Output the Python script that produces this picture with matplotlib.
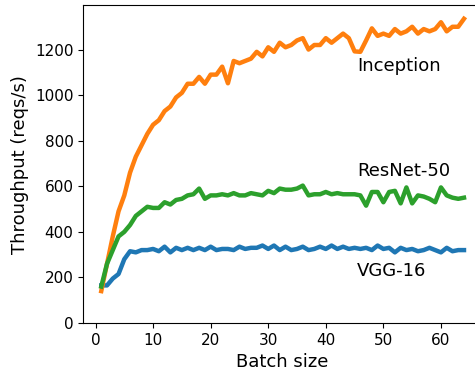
import matplotlib.pyplot as plt

batch = list(range(1, 65))

vgg16 = [165, 165, 195, 215, 280, 315, 310, 320, 320, 325,
         315, 335, 310, 330, 320, 330, 320, 330, 320, 335,
         320, 325, 325, 320, 335, 325, 330, 330, 340, 325,
         340, 320, 335, 320, 325, 335, 320, 325, 335, 325,
         340, 325, 335, 325, 330, 325, 330, 320, 340, 325,
         330, 310, 330, 320, 325, 315, 320, 330, 320, 310,
         330, 315, 320, 320]

inception = [140, 260, 380, 490, 560, 660, 730, 780, 830, 870,
             890, 930, 950, 990, 1010, 1050, 1050, 1080, 1050, 1090,
             1090, 1125, 1052, 1150, 1140, 1150, 1160, 1190, 1170, 1210,
             1190, 1230, 1210, 1220, 1240, 1250, 1200, 1220, 1220, 1250,
             1230, 1250, 1270, 1250, 1192, 1190, 1240, 1293, 1260, 1270,
             1260, 1290, 1270, 1280, 1300, 1270, 1290, 1280, 1290, 1320,
             1280, 1300, 1300, 1335]

resnet50 = [160, 260, 320, 380, 400, 430, 470, 490, 510, 505,
            505, 530, 520, 540, 545, 560, 565, 590, 545, 560,
            560, 565, 560, 570, 560, 560, 570, 565, 560, 580,
            570, 590, 585, 585, 590, 603, 560, 565, 565, 575,
            565, 570, 565, 565, 565, 560, 515, 575, 575, 530,
            575, 580, 525, 595, 525, 560, 555, 545, 530, 595,
            560, 550, 545, 550]

fig = plt.figure(figsize=(4.75, 3.7), dpi=100)
ax = fig.add_axes([0.175, 0.127, 0.84, 0.859])

ax.plot(batch, vgg16, linewidth=3.2)
ax.plot(batch, inception, linewidth=3.2)
ax.plot(batch, resnet50, linewidth=3.2)

# labels next to the lines instead of a legend
ax.text(45.4, 1127, 'Inception', fontsize=13, va='center')
ax.text(45.4, 668, 'ResNet-50', fontsize=13, va='center')
ax.text(45.4, 227, 'VGG-16', fontsize=13, va='center')

ax.set_ylim(bottom=0)
ax.set_xlabel('Batch size', fontsize=13)
ax.set_ylabel('Throughput (reqs/s)', fontsize=13)
ax.tick_params(labelsize=11)

plt.savefig('out.png', dpi=100)
